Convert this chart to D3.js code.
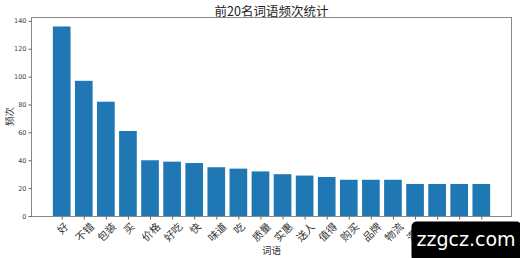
<!DOCTYPE html>
<html><head><meta charset="utf-8">
<script src="https://cdn.jsdelivr.net/npm/d3@7"></script>
<style>
html,body{margin:0;padding:0;background:#fff;}
svg{display:block;}
text{font-family:"Noto Sans CJK SC","DejaVu Sans",sans-serif;}
</style></head>
<body>
<script>
const words = ["好","不错","包装","买","价格","好吃","快","味道","吃","质量","实惠","送人","值得","购买","品牌","物流","满意","正品","喜欢","东西"];
const counts = [136,97,82,61,40,39,38,35,34,32,30,29,28,26,26,26,23,23,23,23];
const yTicks = [0,20,40,60,80,100,120,140];
const title = "前20名词语频次统计";
const xTitle = "词语";
const yTitle = "频次";

const W = 520, H = 258;
const m = {left:31, right:8, top:17, bottom:42};
const svg = d3.select("body").append("svg").attr("width",W).attr("height",H);

const n = words.length;
const pad = 0.4 + 0.05*(n - 1 + 0.8);
const x = d3.scaleLinear().domain([-pad, n - 1 + pad]).range([m.left, W - m.right]);
const ymax = counts[0]*1.05;
const y = d3.scaleLinear().domain([0, ymax]).range([H - m.bottom, m.top]);

// bars
svg.append("g").selectAll("rect").data(counts).join("rect")
  .attr("x",(d,i)=>x(i-0.4))
  .attr("width",(d,i)=>x(i+0.4)-x(i-0.4))
  .attr("y",d=>y(d))
  .attr("height",d=>y(0)-y(d))
  .attr("fill","#1f77b4");

// frame
svg.append("rect").attr("x",m.left+0.5).attr("y",m.top+0.5)
  .attr("width",W-m.right-m.left-1).attr("height",H-m.bottom-m.top)
  .attr("fill","none").attr("stroke","#888").attr("stroke-width",1);

// y axis
const yAxis = svg.append("g").attr("transform",`translate(${m.left+0.5},0)`)
  .call(d3.axisLeft(y).tickValues(yTicks).tickSize(3).tickPadding(2));
yAxis.select(".domain").remove();
yAxis.selectAll("line").attr("stroke","#666");
yAxis.selectAll("text").attr("font-size",6.5).attr("fill","#444")
  .style("font-family","'DejaVu Sans',sans-serif");

// x axis
const xAxis = svg.append("g").attr("transform",`translate(0,${H-m.bottom+0.5})`)
  .call(d3.axisBottom(x).tickValues(d3.range(n)).tickSize(3).tickFormat(i=>words[i]));
xAxis.select(".domain").remove();
xAxis.selectAll("line").attr("stroke","#666");
xAxis.selectAll("text")
  .attr("font-size",10.5).attr("fill","#333")
  .attr("text-anchor","middle").attr("dy",null).attr("y",0)
  .attr("transform",function(){
    const w = this.getComputedTextLength();
    const h = 10.5;
    const half = (w + h) / Math.SQRT2 / 2;
    return `translate(0,${4 + half}) rotate(-45)`;
  })
  .attr("dominant-baseline","central");

// titles
svg.append("text").attr("x",(m.left+W-m.right)/2).attr("y",15.5)
  .attr("text-anchor","middle").attr("font-size",12.5).attr("fill","#222").text(title);
svg.append("text").attr("x",(m.left+W-m.right)/2).attr("y",254)
  .attr("text-anchor","middle").attr("font-size",9.5).attr("fill","#333").text(xTitle);
svg.append("text").attr("transform",`translate(12.5,${(m.top+H-m.bottom)/2}) rotate(-90)`)
  .attr("text-anchor","middle").attr("font-size",9.5).attr("fill","#333").text(yTitle);

// watermark
svg.append("rect").attr("x",411.5).attr("y",221.5).attr("width",110).attr("height",40)
  .attr("rx",5).attr("fill","#000");
svg.append("text").attr("x",466).attr("y",246).attr("text-anchor","middle")
  .attr("font-size",19).attr("fill","#fff").style("font-family","'DejaVu Sans',sans-serif")
  .text("zzgcz.com");
</script>
</body></html>
